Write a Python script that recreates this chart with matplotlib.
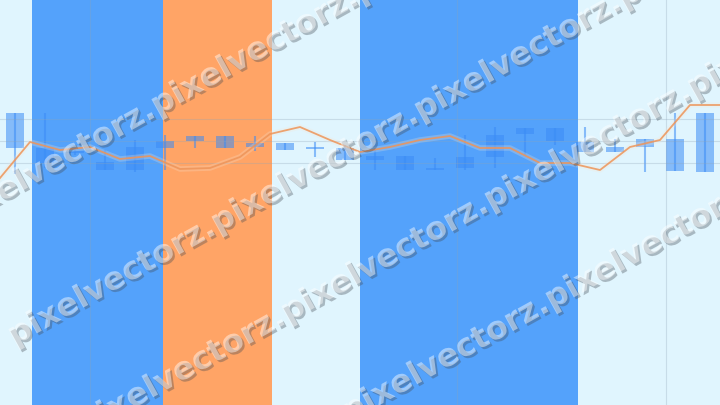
import numpy as np
import matplotlib
matplotlib.use('Agg')
import matplotlib.pyplot as plt
import matplotlib.patheffects as pe

# candles (open, high, low, close)
opens  = [25.7, 25.7, 25.4, 24.3, 25.8, 26.4, 26.9, 25.7, 26.2, 26.2, 25.8, 25.7,
          24.9, 24.9, 23.7, 24.8, 24.8, 27.7, 27.7, 26.3, 25.8, 26.6, 23.4, 23.3]
highs  = [29.2, 29.2, 25.6, 25.5, 26.5, 27.0, 26.9, 26.9, 26.9, 26.2, 26.3, 26.0,
          25.7, 24.9, 24.7, 27.0, 27.8, 27.7, 27.7, 27.8, 26.6, 26.6, 29.2, 29.2]
lows   = [23.1, 23.7, 25.0, 23.5, 23.3, 23.5, 25.7, 25.7, 25.4, 25.5, 24.8, 24.5,
          23.5, 23.5, 23.5, 23.5, 23.7, 25.0, 26.0, 25.3, 25.3, 23.3, 23.4, 23.3]
closes = [29.2, 24.2, 25.2, 23.5, 23.5, 25.7, 26.4, 26.9, 25.8, 25.5, 25.6, 24.5,
          24.5, 23.5, 23.5, 23.7, 27.0, 27.1, 26.4, 25.3, 25.3, 25.8, 26.6, 29.2]

# moving average line (sampled between candles)
avg_line = [22.7, 26.3, 25.5, 25.8, 24.6, 24.9, 23.6, 23.7, 24.8, 27.1, 27.8, 26.5, 25.3,
            25.8, 26.5, 26.9, 25.7, 25.7, 24.2, 24.2, 23.5, 25.8, 26.5, 30.0, 30.0]

# shaded regimes
band_starts = [0.57, 4.93, 11.5]
band_ends   = [4.93, 8.57, 18.77]
band_colors = ['#54a2fb', '#ffa466', '#54a2fb']

watermark = 'pixelvectorz.'

fig = plt.figure(figsize=(7.2, 4.05), dpi=100)
ax = fig.add_axes([0, 0, 1, 1])
ax.set_facecolor('#e0f5fe')

for s, e, col in zip(band_starts, band_ends, band_colors):
    ax.axvspan(s, e, color=col, zorder=0.5, lw=0)

x = np.arange(len(opens))
bottoms = np.minimum(opens, closes)
heights = np.abs(np.array(closes) - np.array(opens))
ax.bar(x, heights, bottom=bottoms, width=0.57, color='#3b8cf6', alpha=0.55, zorder=2)
ax.vlines(x, lows, highs, color='#3b8cf6', alpha=0.55, lw=1.5, zorder=2)

lx = np.arange(len(avg_line)) - 0.5
ax.plot(lx, avg_line, color='#f6e6d6', lw=4, alpha=0.25, zorder=3, solid_joinstyle='round')
ax.plot(lx, avg_line, color='#ee9458', lw=1.3, alpha=0.85, zorder=3)

ax.set_xlim(-0.5, 23.5)
ax.set_ylim(0, 40.5)
ax.set_xticks([2.5, 14.73, 21.7])
ax.set_yticks([24.2, 26.4, 28.6])
ax.grid(True, color='#8fa5b8', alpha=0.3, lw=0.8)
ax.set_axisbelow(False)
ax.tick_params(length=0, labelbottom=False, labelleft=False)
for sp in ax.spines.values():
    sp.set_visible(False)

# watermark rows: (x, y in pixels from top-left, repeats before)
ang = 29
d = np.array([np.cos(np.radians(ang)), np.sin(np.radians(ang))])
rows = [((163, 103), 2), ((20, 333), 0), ((293, 310), 2), ((557, 297), 2)]
effects = [pe.withSimplePatchShadow(offset=(1.5, -1.5), shadow_rgbFace='#404850', alpha=0.35)]
for (px, py), nback in rows:
    ax0 = px - 11 * d[0]
    ay0 = 405 - py - 11 * d[1]
    fig.text(ax0 / 720, ay0 / 405, watermark * 4, rotation=ang, rotation_mode='anchor',
             ha='left', va='center', fontsize=23, fontweight='bold', color='white',
             alpha=0.45, path_effects=effects, zorder=10)
    if nback:
        fig.text(ax0 / 720, ay0 / 405, watermark * nback, rotation=ang, rotation_mode='anchor',
                 ha='right', va='center', fontsize=23, fontweight='bold', color='white',
                 alpha=0.45, path_effects=effects, zorder=10)

fig.savefig('out.png', dpi=100)
